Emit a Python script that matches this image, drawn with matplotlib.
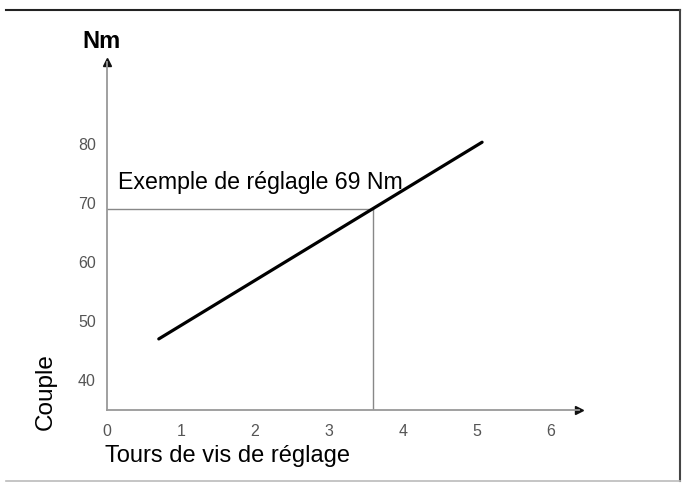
import matplotlib.pyplot as plt

plt.rcParams['font.family'] = ['Liberation Sans', 'DejaVu Sans']

# courbe couple / tours
tours = [0.70, 5.07]
couple = [46.95, 80.3]

# point d'exemple
ex_tours = 3.59
ex_couple = 69

xticks = [0, 1, 2, 3, 4, 5, 6]
yticks = [40, 50, 60, 70, 80]

W, H = 682, 484
fig = plt.figure(figsize=(W / 100, H / 100), dpi=100)

# cadre (haut, droite, bas)
fig.add_artist(plt.Line2D([6 / W, 680 / W], [1 - 10 / H, 1 - 10 / H], color='#222', lw=1.5))
fig.add_artist(plt.Line2D([680 / W, 680 / W], [1 - 10 / H, 1 - 481 / H], color='#444', lw=1.5))
fig.add_artist(plt.Line2D([6 / W, 680 / W], [1 - 481 / H, 1 - 481 / H], color='#bbb', lw=1.2))

ax = fig.add_axes([107 / W, (H - 410) / H, 472 / W, 348 / H])
ax.set_xlim(0, 6.38)
ax.set_ylim(34.9, 93.9)

for s in ['top', 'right']:
    ax.spines[s].set_visible(False)
for s in ['left', 'bottom']:
    ax.spines[s].set_color('#999')
    ax.spines[s].set_linewidth(1.3)

# fleches
ax.plot(1, 0, '>', color='#111', ms=6, transform=ax.transAxes, clip_on=False)
ax.plot(0, 1, '^', color='#111', ms=6, transform=ax.transAxes, clip_on=False)

ax.set_xticks(xticks)
ax.set_yticks(yticks)
ax.tick_params(length=0, colors='#555', labelsize=11.5)
ax.tick_params(axis='x', pad=10)
ax.tick_params(axis='y', pad=8)

# lignes de reference
ax.plot([0, ex_tours], [ex_couple, ex_couple], color='#888', lw=1)
ax.plot([ex_tours, ex_tours], [34.9, ex_couple], color='#888', lw=1)

ax.plot(tours, couple, color='black', lw=2.3, solid_capstyle='round')

ax.text(0.15, 73.4, 'Exemple de réglagle 69 Nm', fontsize=16.7, va='center', ha='left')

fig.text(105 / W, 1 - 456 / H, 'Tours de vis de réglage', fontsize=17, va='center', ha='left')
fig.text(46 / W, 1 - 392 / H, 'Couple', fontsize=17.5, rotation=90, va='center', ha='center')
fig.text(101 / W, 1 - 42 / H, 'Nm', fontsize=17, fontweight='bold', va='center', ha='center')

fig.savefig('out.png', dpi=100)
